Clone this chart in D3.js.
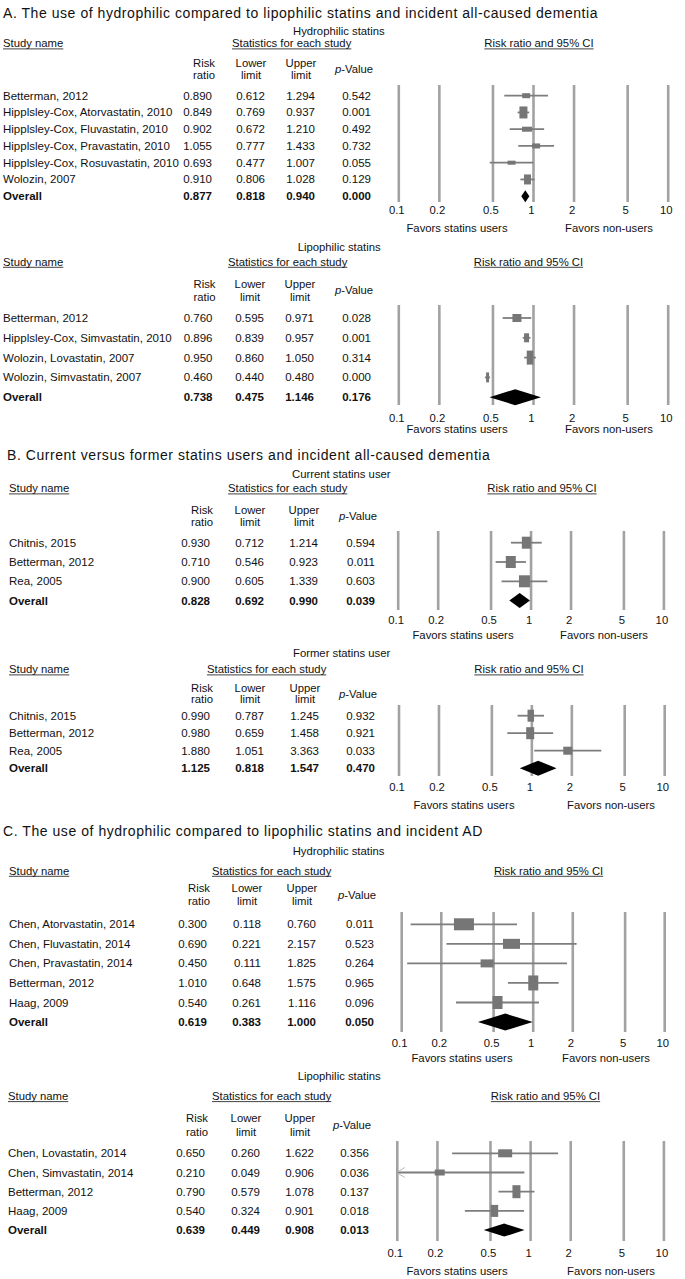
<!DOCTYPE html>
<html><head><meta charset="utf-8">
<script src="https://cdn.jsdelivr.net/npm/d3@7"></script>
<style>
body{margin:0;background:#fff}
text{font-family:"Liberation Sans",Arial,sans-serif;fill:#111}
</style>
</head><body>
<svg id="c" width="685" height="1279"></svg>
<script>
// ---------- DATA ----------
const tickValues = [0.1, 0.2, 0.5, 1, 2, 5, 10];
const tickLabels = ["0.1", "0.2", "0.5", "1", "2", "5", "10"];
const titleA = "A. The use of hydrophilic compared to lipophilic statins and incident all-caused dementia";
const titleB = "B. Current versus former statins users and incident all-caused dementia";
const titleC = "C. The use of hydrophilic compared to lipophilic statins and incident AD";
const favorLabels = ["Favors statins users", "Favors non-users"];

// A1 Hydrophilic statins
const a1Names = ["Betterman, 2012", "Hipplsley-Cox, Atorvastatin, 2010", "Hipplsley-Cox, Fluvastatin, 2010", "Hipplsley-Cox, Pravastatin, 2010", "Hipplsley-Cox, Rosuvastatin, 2010", "Wolozin, 2007", "Overall"];
const a1RR = [0.890, 0.849, 0.902, 1.055, 0.693, 0.910, 0.877];
const a1Lo = [0.612, 0.769, 0.672, 0.777, 0.477, 0.806, 0.818];
const a1Hi = [1.294, 0.937, 1.210, 1.433, 1.007, 1.028, 0.940];
const a1P  = [0.542, 0.001, 0.492, 0.732, 0.055, 0.129, 0.000];

// A2 Lipophilic statins
const a2Names = ["Betterman, 2012", "Hipplsley-Cox, Simvastatin, 2010", "Wolozin, Lovastatin, 2007", "Wolozin, Simvastatin, 2007", "Overall"];
const a2RR = [0.760, 0.896, 0.950, 0.460, 0.738];
const a2Lo = [0.595, 0.839, 0.860, 0.440, 0.475];
const a2Hi = [0.971, 0.957, 1.050, 0.480, 1.146];
const a2P  = [0.028, 0.001, 0.314, 0.000, 0.176];

// B1 Current statins user
const b1Names = ["Chitnis, 2015", "Betterman, 2012", "Rea, 2005", "Overall"];
const b1RR = [0.930, 0.710, 0.900, 0.828];
const b1Lo = [0.712, 0.546, 0.605, 0.692];
const b1Hi = [1.214, 0.923, 1.339, 0.990];
const b1P  = [0.594, 0.011, 0.603, 0.039];

// B2 Former statins user
const b2Names = ["Chitnis, 2015", "Betterman, 2012", "Rea, 2005", "Overall"];
const b2RR = [0.990, 0.980, 1.880, 1.125];
const b2Lo = [0.787, 0.659, 1.051, 0.818];
const b2Hi = [1.245, 1.458, 3.363, 1.547];
const b2P  = [0.932, 0.921, 0.033, 0.470];

// C1 Hydrophilic statins (AD)
const c1Names = ["Chen, Atorvastatin, 2014", "Chen, Fluvastatin, 2014", "Chen, Pravastatin, 2014", "Betterman, 2012", "Haag, 2009", "Overall"];
const c1RR = [0.300, 0.690, 0.450, 1.010, 0.540, 0.619];
const c1Lo = [0.118, 0.221, 0.111, 0.648, 0.261, 0.383];
const c1Hi = [0.760, 2.157, 1.825, 1.575, 1.116, 1.000];
const c1P  = [0.011, 0.523, 0.264, 0.965, 0.096, 0.050];

// C2 Lipophilic statins (AD)
const c2Names = ["Chen, Lovastatin, 2014", "Chen, Simvastatin, 2014", "Betterman, 2012", "Haag, 2009", "Overall"];
const c2RR = [0.650, 0.210, 0.790, 0.540, 0.639];
const c2Lo = [0.260, 0.049, 0.579, 0.324, 0.449];
const c2Hi = [1.622, 0.906, 1.078, 0.901, 0.908];
const c2P  = [0.356, 0.036, 0.137, 0.018, 0.013];

// ---------- LAYOUT / STYLE ----------
const panels = [
  {title: titleA, titleX: 3, titleY: 13.3, subtitle: "Hydrophilic statins", subX: 293, subY: 30.7,
   headY: 43.3, hdr1: 63.3, hdr2: 75.3, row0: 95.7, step: 16.75, nameX: 3, cols: [212, 265, 315, 371],
   statX: 232, ciX: 539, xr: [398.3, 667.7], lineY: [85, 202], tickY: 210, favY: 228, favX: [457, 609],
   boxW: [8, 8, 10, 8, 8, 7], boxH: [5, 12, 5, 5, 4, 10], dH: 12,
   names: a1Names, rr: a1RR, lo: a1Lo, hi: a1Hi, p: a1P},
  {subtitle: "Lipophilic statins", subX: 297.7, subY: 246.5,
   headY: 261.7, hdr1: 284, hdr2: 296.7, row0: 318, step: 19.8, nameX: 3, cols: [212.5, 264, 314, 371],
   statX: 228, ciX: 528.5, xr: [398.3, 667.7], lineY: [305, 405], tickY: 418, favY: 429, favX: [457, 609],
   boxW: [9, 5, 6.5, 3], boxH: [8, 9, 14, 10], dH: 16,
   names: a2Names, rr: a2RR, lo: a2Lo, hi: a2Hi, p: a2P},
  {title: titleB, titleX: 7, titleY: 455, subtitle: "Current statins user", subX: 292, subY: 474.3,
   headY: 488.3, hdr1: 510, hdr2: 521.7, row0: 542.7, step: 19.3, nameX: 9, cols: [210, 264, 318, 375],
   statX: 228, ciX: 542, xr: [397.7, 663.4], lineY: [531, 610], tickY: 620, favY: 635, favX: [463, 604],
   boxW: [9, 10, 11], boxH: [12, 12, 12], dH: 15,
   names: b1Names, rr: b1RR, lo: b1Lo, hi: b1Hi, p: b1P},
  {subtitle: "Former statins user", subX: 293, subY: 653.3,
   headY: 669.3, hdr1: 688.3, hdr2: 699.3, row0: 715.7, step: 17.5, nameX: 9, cols: [210, 264, 319, 375],
   statX: 207, ciX: 529, xr: [398.5, 664.2], lineY: [705, 776], tickY: 787, favY: 805, favX: [464, 611],
   boxW: [6.5, 8, 9], boxH: [12, 12, 8], dH: 15,
   names: b2Names, rr: b2RR, lo: b2Lo, hi: b2Hi, p: b2P},
  {title: titleC, titleX: 3, titleY: 830.7, subtitle: "Hydrophilic statins", subX: 292.7, subY: 851,
   headY: 870.7, hdr1: 888.3, hdr2: 900.7, row0: 924.3, step: 19.55, nameX: 9, cols: [207, 261, 316, 374],
   statX: 212, ciX: 548.6, xr: [401.2, 664.2], lineY: [912, 1032], tickY: 1043, favY: 1058, favX: [462, 606],
   boxW: [20, 17, 13, 10, 10], boxH: [12, 10, 8, 15, 13], dH: 17,
   names: c1Names, rr: c1RR, lo: c1Lo, hi: c1Hi, p: c1P},
  {subtitle: "Lipophilic statins", subX: 297.7, subY: 1075.7,
   headY: 1096, hdr1: 1117.7, hdr2: 1131.7, row0: 1153.3, step: 19.2, nameX: 8, cols: [205, 260, 314, 369],
   statX: 212, ciX: 545.5, xr: [396.8, 663.4], lineY: [1141, 1241], tickY: 1253, favY: 1271, favX: [457, 611],
   boxW: [14, 10, 8, 7.5], boxH: [8, 6, 13, 12], dH: 13,
   names: c2Names, rr: c2RR, lo: c2Lo, hi: c2Hi, p: c2P}
];

const FS = 11.3, ROWFS = 11.5;
const gridColor = "#a2a2a2", ciColor = "#7d7d7d", boxColor = "#767676";
const svg = d3.select("#c");
const fmt = d3.format(".3f");

function txt(g, s, x, y, anchor, size, weight) {
  return g.append("text").attr("x", x).attr("y", y).attr("text-anchor", anchor || "start")
    .attr("font-size", size || FS).attr("font-weight", weight || "normal")
    .style("white-space", "pre").text(s);
}
function underlined(g, s, x, yc, anchor) {
  const t = txt(g, s, x, yc + 4, anchor);
  const w = t.node().getComputedTextLength();
  const x0 = anchor === "middle" ? x - w / 2 : x;
  g.append("line").attr("x1", x0).attr("x2", x0 + w).attr("y1", yc + 5.6).attr("y2", yc + 5.6)
    .attr("stroke", "#111").attr("stroke-width", 0.8);
}

panels.forEach(cfg => {
  const g = svg.append("g");
  if (cfg.title) txt(g, cfg.title, cfg.titleX, cfg.titleY + 5, "start", 14).attr("letter-spacing", 0.55);
  txt(g, cfg.subtitle, cfg.subX, cfg.subY + 4);
  underlined(g, "Study name", cfg.nameX, cfg.headY, "start");
  underlined(g, "Statistics for each study", cfg.statX, cfg.headY, "start");
  underlined(g, "Risk ratio and 95% CI", cfg.ciX, cfg.headY, "middle");

  const c = cfg.cols;
  txt(g, "Risk", c[0] + 3, cfg.hdr1 + 4, "end");
  txt(g, "ratio", c[0] + 3, cfg.hdr2 + 4, "end");
  txt(g, "Lower", c[1] - 14, cfg.hdr1 + 4, "middle");
  txt(g, "limit", c[1] - 14, cfg.hdr2 + 4, "middle");
  txt(g, "Upper", c[2] - 14, cfg.hdr1 + 4, "middle");
  txt(g, "limit", c[2] - 14, cfg.hdr2 + 4, "middle");
  const pv = txt(g, "", c[3] + 2, (cfg.hdr1 + cfg.hdr2) / 2 + 4, "end");
  pv.append("tspan").attr("font-style", "italic").text("p");
  pv.append("tspan").text("-Value");

  const x = d3.scaleLog().domain([0.1, 10]).range(cfg.xr);
  const n = cfg.names.length;
  const yOf = i => cfg.row0 + i * cfg.step;

  // vertical reference lines (axis gridlines)
  const grid = g.append("g").attr("transform", `translate(0,${cfg.lineY[1]})`)
    .call(d3.axisBottom(x).tickValues(tickValues).tickFormat("").tickSize(-(cfg.lineY[1] - cfg.lineY[0])));
  grid.select(".domain").remove();
  grid.selectAll(".tick line").attr("stroke", gridColor).attr("stroke-width", 2.6);

  // tick labels
  const ax = g.append("g").attr("transform", `translate(-2,${cfg.tickY - 4})`)
    .call(d3.axisBottom(x).tickValues(tickValues).tickFormat((d, i) => tickLabels[i]).tickSize(0).tickPadding(0));
  ax.select(".domain").remove();
  ax.attr("font-size", FS).attr("font-family", '"Liberation Sans", Arial, sans-serif');
  ax.selectAll("text").attr("fill", "#111");

  txt(g, favorLabels[0], cfg.favX[0], cfg.favY + 4, "middle");
  txt(g, favorLabels[1], cfg.favX[1], cfg.favY + 4, "middle");

  // rows
  for (let i = 0; i < n; i++) {
    const y = yOf(i), last = i === n - 1, w = last ? "bold" : "normal";
    txt(g, cfg.names[i], cfg.nameX, y + 4, "start", ROWFS, w);
    txt(g, fmt(cfg.rr[i]), c[0], y + 4, "end", ROWFS, w);
    txt(g, fmt(cfg.lo[i]), c[1], y + 4, "end", ROWFS, w);
    txt(g, fmt(cfg.hi[i]), c[2], y + 4, "end", ROWFS, w);
    txt(g, fmt(cfg.p[i]), c[3], y + 4, "end", ROWFS, w);

    if (last) {
      const h = cfg.dH / 2;
      g.append("path")
        .attr("d", `M${x(cfg.lo[i])},${y}L${x(cfg.rr[i])},${y - h}L${x(cfg.hi[i])},${y}L${x(cfg.rr[i])},${y + h}Z`)
        .attr("fill", "#000");
    } else {
      const lo = Math.max(cfg.lo[i], 0.1), hi = Math.min(cfg.hi[i], 10);
      g.append("line").attr("x1", x(lo)).attr("x2", x(hi)).attr("y1", y).attr("y2", y)
        .attr("stroke", ciColor).attr("stroke-width", 1.8);
      if (cfg.lo[i] < 0.1) {
        const ax0 = x(0.1);
        g.append("path").attr("d", `M${ax0 + 8},${y - 5}L${ax0},${y}L${ax0 + 8},${y + 5}`)
          .attr("fill", "none").attr("stroke", "#b5b5b5").attr("stroke-width", 1);
      }
      const bw = cfg.boxW[i], bh = cfg.boxH[i];
      g.append("rect").attr("x", x(cfg.rr[i]) - bw / 2).attr("y", y - bh / 2)
        .attr("width", bw).attr("height", bh).attr("fill", boxColor);
    }
  }
});
</script>
</body></html>
